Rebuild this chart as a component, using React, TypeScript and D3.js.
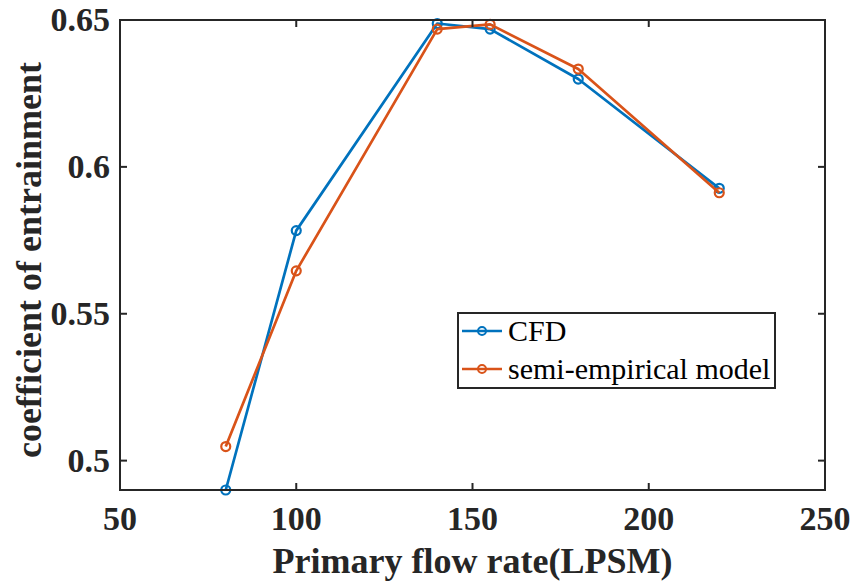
import React, { useEffect, useRef } from "react";
import * as d3 from "d3";

// primary flow rate (LPSM)
const flowRates = [80, 100, 140, 155, 180, 220];
const cfdValues = [0.49, 0.5783, 0.6488, 0.6469, 0.6299, 0.5927];
const semiValues = [0.5048, 0.5646, 0.6469, 0.6485, 0.6333, 0.5912];
const seriesNames = ["CFD", "semi-empirical model"];
const seriesColors = ["#0072BD", "#D95319"];
const xTicks = [50, 100, 150, 200, 250];
const yTicks = [0.5, 0.55, 0.6, 0.65];

export default function App() {
  const ref = useRef<SVGSVGElement>(null);

  useEffect(() => {
    if (!ref.current) return;
    document.body.style.margin = "0";
    const width = 855,
      height = 583;
    const margin = { top: 20, right: 30, bottom: 93, left: 120 };
    const font =
      "Liberation Serif, LiberationSerif, Times New Roman, Times, Tinos, Nimbus Roman, DejaVu Serif, serif";
    const ink = "#262626";

    const svg = d3.select(ref.current);
    svg.selectAll("*").remove();

    var x = d3
      .scaleLinear()
      .domain([50, 250])
      .range([margin.left, width - margin.right]);
    var y = d3
      .scaleLinear()
      .domain([0.49, 0.65])
      .range([height - margin.bottom, margin.top]);

    const series = [cfdValues, semiValues];

    // lines + markers
    const line = d3
      .line<number>()
      .x((_, i) => x(flowRates[i]))
      .y((d) => y(d));

    series.forEach((vals, si) => {
      svg
        .append("path")
        .datum(vals)
        .attr("d", line)
        .attr("fill", "none")
        .attr("stroke", seriesColors[si])
        .attr("stroke-width", 2.7)
        .attr("stroke-linejoin", "round");
      svg
        .selectAll(null)
        .data(vals)
        .enter()
        .append("circle")
        .attr("cx", (_, i) => x(flowRates[i]))
        .attr("cy", (d) => y(d))
        .attr("r", 4.5)
        .attr("fill", "none")
        .attr("stroke", seriesColors[si])
        .attr("stroke-width", 2.2);
    });

    // axes box
    const [x0, x1] = x.range();
    const [y0, y1] = y.range();
    svg
      .append("rect")
      .attr("x", x0)
      .attr("y", y1)
      .attr("width", x1 - x0)
      .attr("height", y0 - y1)
      .attr("fill", "none")
      .attr("stroke", ink)
      .attr("stroke-width", 2);

    const tickLen = 7;
    xTicks.forEach((t) => {
      svg.append("line")
        .attr("x1", x(t)).attr("x2", x(t))
        .attr("y1", y0).attr("y2", y0 - tickLen)
        .attr("stroke", ink).attr("stroke-width", 2);
      svg.append("line")
        .attr("x1", x(t)).attr("x2", x(t))
        .attr("y1", y1).attr("y2", y1 + tickLen)
        .attr("stroke", ink).attr("stroke-width", 2);
      svg.append("text")
        .attr("x", x(t))
        .attr("y", 530)
        .attr("text-anchor", "middle")
        .style("font-family", font)
        .attr("font-weight", "bold")
        .attr("font-size", 34)
        .attr("fill", ink)
        .text(String(t));
    });

    yTicks.forEach((t) => {
      svg.append("line")
        .attr("x1", x0).attr("x2", x0 + tickLen)
        .attr("y1", y(t)).attr("y2", y(t))
        .attr("stroke", ink).attr("stroke-width", 2);
      svg.append("line")
        .attr("x1", x1).attr("x2", x1 - tickLen)
        .attr("y1", y(t)).attr("y2", y(t))
        .attr("stroke", ink).attr("stroke-width", 2);
      svg.append("text")
        .attr("x", 110)
        .attr("y", y(t) + 11)
        .attr("text-anchor", "end")
        .style("font-family", font)
        .attr("font-weight", "bold")
        .attr("font-size", 34)
        .attr("fill", ink)
        .text(String(t));
    });

    // axis labels
    svg.append("text")
      .attr("x", (x0 + x1) / 2)
      .attr("y", 573)
      .attr("text-anchor", "middle")
      .style("font-family", font)
      .attr("font-weight", "bold")
      .attr("font-size", 36)
      .attr("fill", ink)
      .text("Primary flow rate(LPSM)");

    svg.append("text")
      .attr("transform", `translate(41,${(y0 + y1) / 2 + 5}) rotate(-90)`)
      .attr("text-anchor", "middle")
      .style("font-family", font)
      .attr("font-weight", "bold")
      .attr("font-size", 36)
      .attr("fill", ink)
      .text("coefficient of entrainment");

    // legend
    const lg = svg.append("g").attr("transform", "translate(458,313)");
    lg.append("rect")
      .attr("width", 317)
      .attr("height", 75)
      .attr("fill", "white")
      .attr("stroke", ink)
      .attr("stroke-width", 2);
    seriesNames.forEach((name, i) => {
      const cy = 18 + i * 38;
      lg.append("line")
        .attr("x1", 4).attr("x2", 44)
        .attr("y1", cy).attr("y2", cy)
        .attr("stroke", seriesColors[i]).attr("stroke-width", 2.7);
      lg.append("circle")
        .attr("cx", 24).attr("cy", cy).attr("r", 4)
        .attr("fill", "none")
        .attr("stroke", seriesColors[i]).attr("stroke-width", 2);
      lg.append("text")
        .attr("x", 50)
        .attr("y", cy + 10)
        .style("font-family", font)
        .attr("font-size", 30)
        .attr("fill", "#000")
        .text(name);
    });
  }, []);

  return <svg ref={ref} width={855} height={583} style={{ display: "block" }} />;
}
